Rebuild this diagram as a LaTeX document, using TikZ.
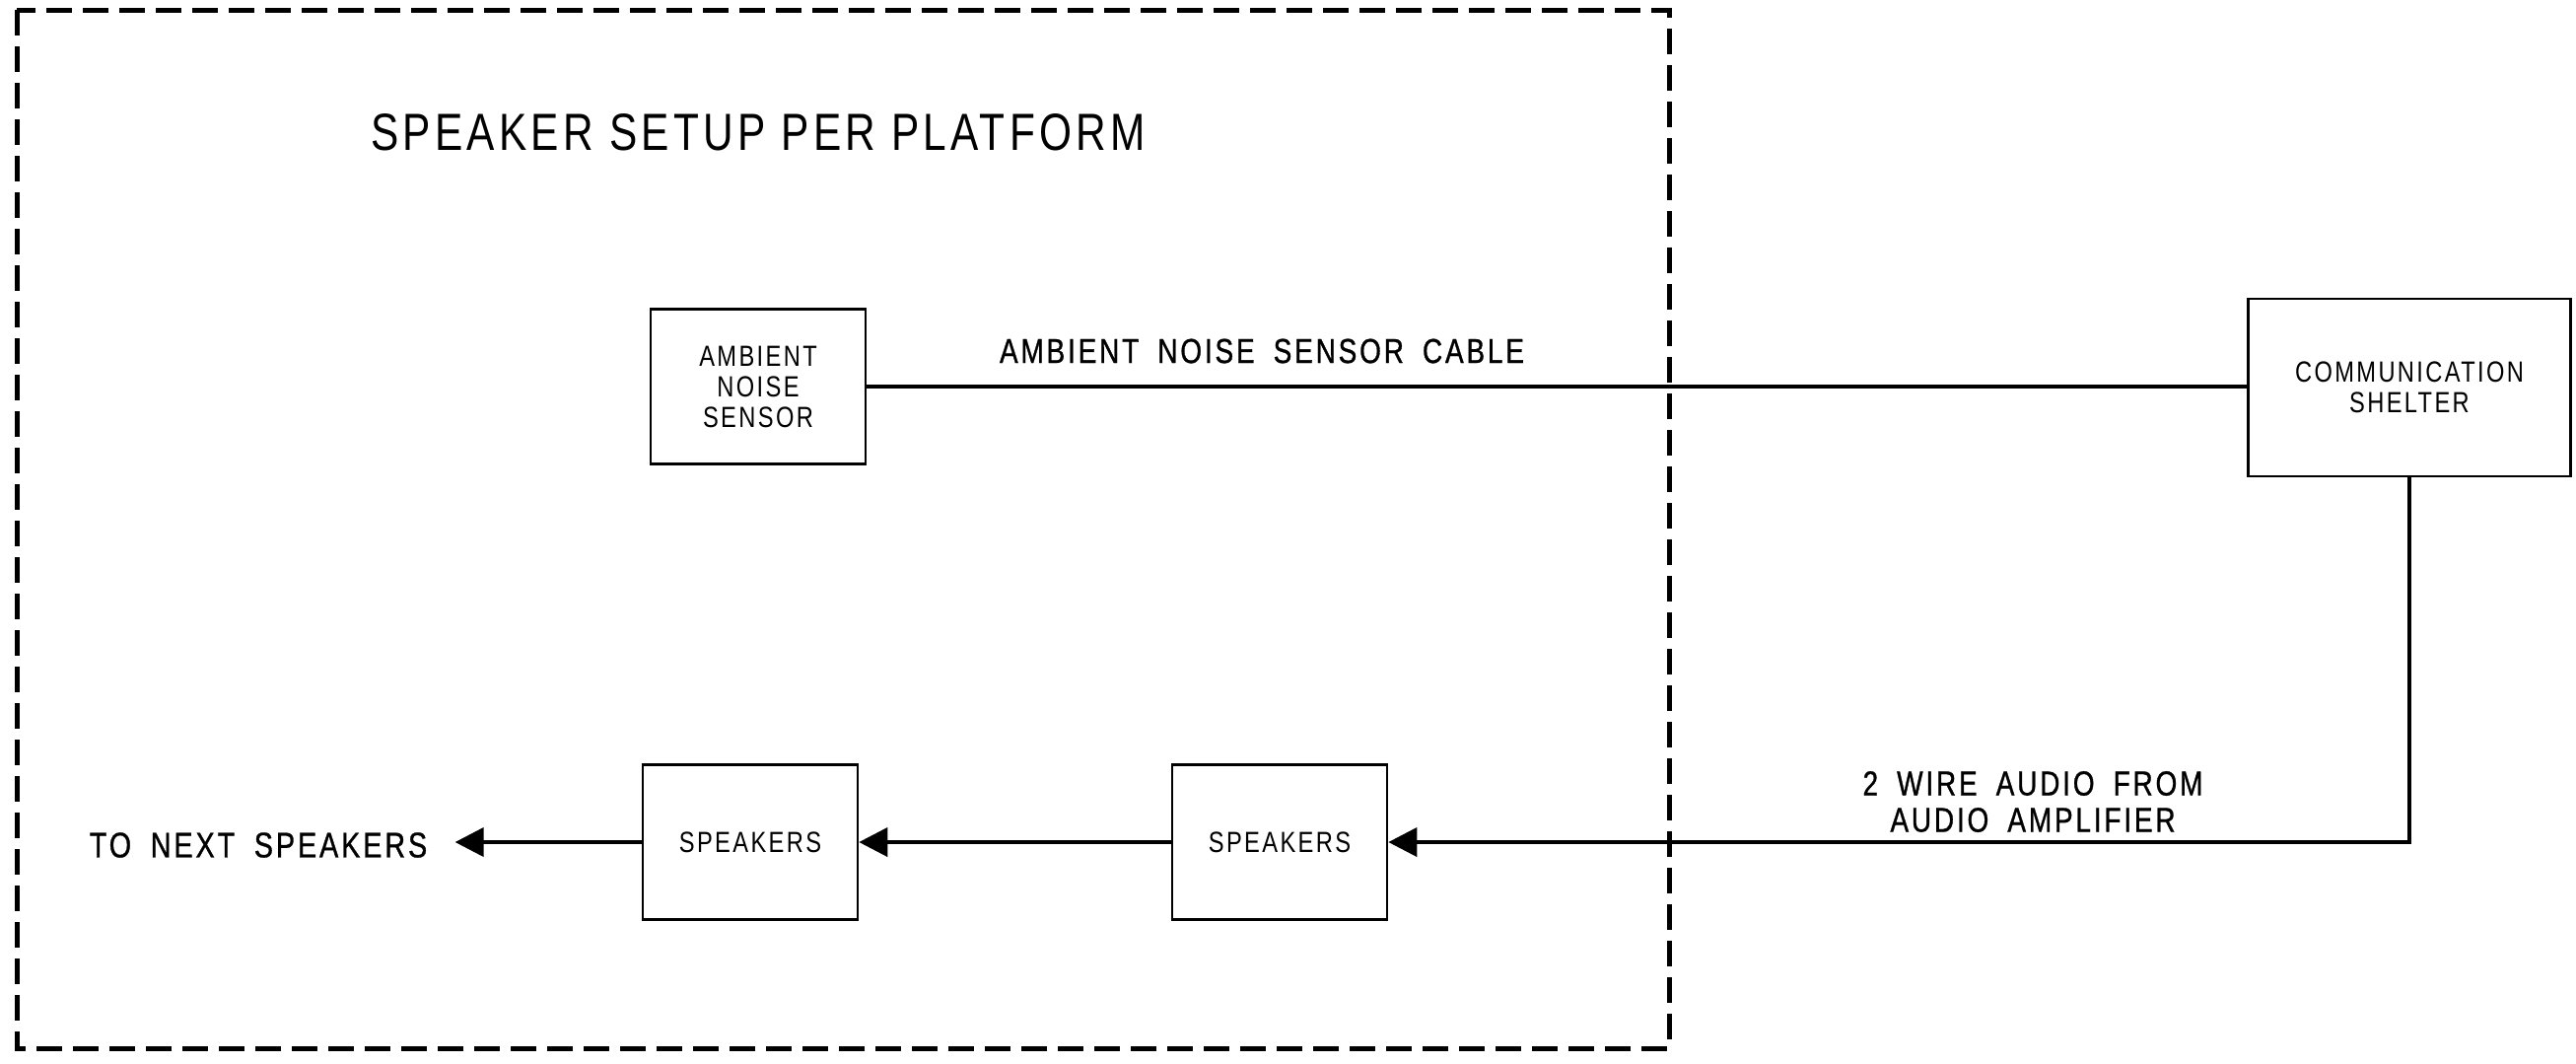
\documentclass[tikz,border=0pt]{standalone}
\usepackage{fontspec}
\setmainfont[FakeStretch=0.8,LetterSpace=8]{Liberation Sans}
\newfontfamily\lblfont[FakeStretch=0.8,LetterSpace=8,WordSpace=1.8,FakeBold=0.8]{Liberation Sans}
\usetikzlibrary{arrows.meta}

\begin{document}
\begin{tikzpicture}[x=0.5pt,y=-0.5pt,font=\fontsize{14.8pt}{15.5pt}\selectfont,
      dev/.style={draw,line width=1.3pt,minimum width=109pt,minimum height=78.5pt,align=center,inner sep=0pt},
      cab/.style={line width=2pt},
      arr/.style={cab,-{Triangle[length=14.5pt,width=14.5pt]}},
      lbl/.style={font=\lblfont\fontsize{17.5pt}{18.5pt}\selectfont,align=center,inner sep=0pt}]
  \useasboundingbox (0,0) rectangle (2613,1078);
  \draw[line width=2.5pt,dash pattern=on 13pt off 5.5pt] (17,10) rectangle (1693,1063);
  \node[font=\fontsize{26.5pt}{28pt}\selectfont,inner sep=0pt] (ttl) at (769,134) {SPEAKER SETUP PER PLATFORM};
  \node[dev] (ans) at (769,392) {AMBIENT\\NOISE\\SENSOR};
  \node[dev,minimum width=163.5pt,minimum height=90pt] (cs) at (2444,393) {COMMUNICATION\\SHELTER};
  \node[dev] (sp2) at (1298,854) {SPEAKERS};
  \node[dev] (sp1) at (761,854) {SPEAKERS};
  \node[lbl,font=\lblfont\fontsize{18pt}{20pt}\selectfont,inner xsep=14pt] (nxt) at (262,857) {TO NEXT SPEAKERS};
  \node[lbl] (cbl) at (1280,356) {AMBIENT NOISE SENSOR CABLE};
  \node[lbl] (aud) at (2062,813) {2 WIRE AUDIO FROM\\AUDIO AMPLIFIER};
  \draw[cab] (ans.east) -- (ans.east -| cs.west);
  \draw[arr] (cs.south) |- (sp2.east);
  \draw[arr] (sp2.west) -- (sp1.east);
  \draw[arr] (sp1.west) -- (sp1.west -| nxt.east);
\end{tikzpicture}
\end{document}
